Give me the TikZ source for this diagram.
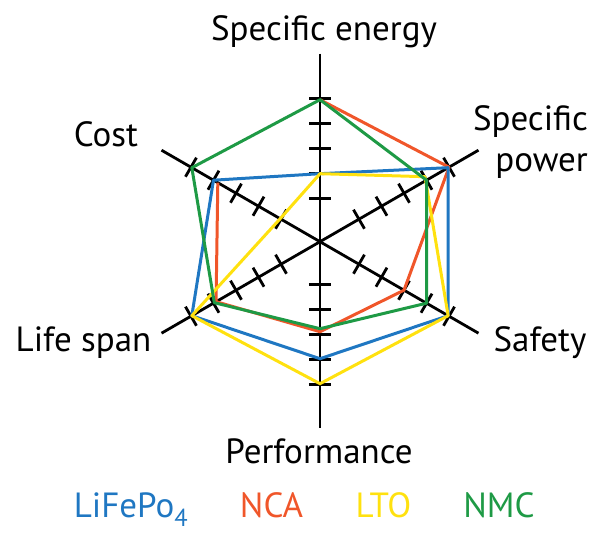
\documentclass[tikz,border=0pt]{standalone}
\usepackage{fontspec}
\setmainfont{PT Sans}
\definecolor{lfpblue}{HTML}{1F77C2}
\definecolor{ncaorange}{HTML}{F0562A}
\definecolor{ltoyellow}{HTML}{FFE10F}
\definecolor{nmcgreen}{HTML}{1E9A45}

\begin{document}
\begin{tikzpicture}[x=1pt, y=1pt,
  axis/.style={black, line width=2.8pt},
  series/.style={line width=3pt, line join=round},
  lbl/.style={font=\fontsize{35}{41}\selectfont, inner sep=0pt, anchor=base}]
  \useasboundingbox (-320,-291.3) rectangle (283,241.7);

  % the six axes
  \coordinate (se) at (90:188);
  \coordinate (pe) at (-90:186);
  \coordinate (sp) at (30:183);
  \coordinate (ls) at (210:183);
  \coordinate (co) at (150:183);
  \coordinate (sa) at (-30:183);
  \draw[axis] (se) -- (pe);
  \draw[axis] (co) -- (sa);
  \draw[axis] (ls) -- (sp);
  \foreach \a/\s/\o in {90/25/18, -90/25/18, 30/26/19, -30/26/19, 150/26/19, 210/26/19}
    \foreach \k in {1,...,5}
      \draw[axis, rotate=\a] (\o+\s*\k,-11) -- (\o+\s*\k,11);

  % data
  \draw[series, ncaorange] (150:118) -- (210:120) -- (-90:90) -- (-30:97) -- (30:149) -- (90:142);
  \draw[series, lfpblue] (90:68) -- (30:148) -- (-30:148) -- (-90:117) -- (210:148) -- (150:123) -- cycle;
  \draw[series, ltoyellow] (90:68) -- (105,65) -- (-30:148) -- (-90:142) -- (210:148) -- (150:46) -- cycle;
  \draw[series, nmcgreen] (90:142) -- (30:123) -- (-30:123) -- (-90:87) -- (210:122) -- (150:148) -- cycle;

  \node[lbl] (energy) at (4,201) {Specific energy};
  \node[lbl] (cost) at (-214,95) {Cost};
  \node[lbl, anchor=base east, align=right] (power) at (268,70) {Specific\\power};
  \node[lbl] (life) at (-236.5,-110) {Life span};
  \node[lbl] (safety) at (220,-110) {Safety};
  \node[lbl] (perf) at (-1,-221.3) {Performance};

  % legend
  \node[lbl, lfpblue] (lfp) at (-189,-276) {LiFePo\textsubscript{4}};
  \node[lbl, ncaorange] (nca) at (-48.5,-276) {NCA};
  \node[lbl, ltoyellow] (lto) at (63.5,-276) {LTO};
  \node[lbl, nmcgreen] (nmc) at (179,-276) {NMC};
\end{tikzpicture}
\end{document}
